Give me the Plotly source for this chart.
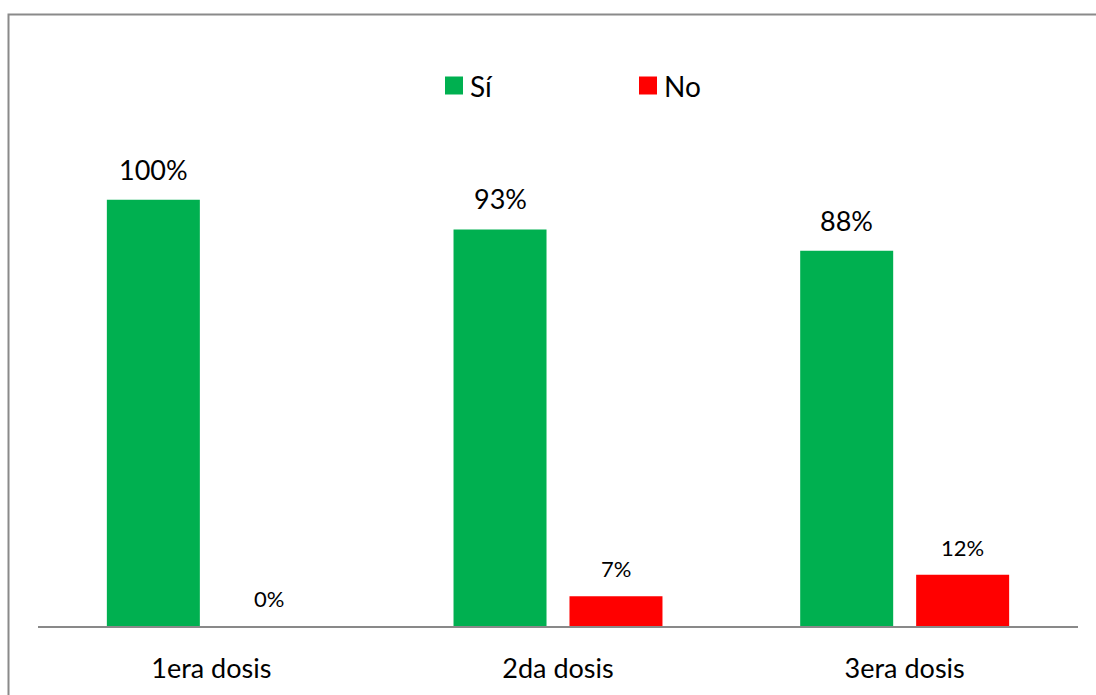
import plotly.graph_objects as go

# Chart data
categories = ["1era dosis", "2da dosis", "3era dosis"]
series_names = ["Sí", "No"]
si_values = [100, 93, 88]
no_values = [0, 7, 12]
series_colors = ["#00B050", "#FF0000"]

# Figure geometry (pixels)
W, H = 1096, 695
M_L, M_R, M_T, M_B = 38, 18, 157, 69
PLOT_W = W - M_L - M_R
PLOT_H = H - M_T - M_B
BARGAP = 0.331
BARGROUPGAP = 0.198
FONT = "Lato"


def px_x(px):
    """Horizontal pixel position -> paper coordinate."""
    return (px - M_L) / PLOT_W


def px_y(py):
    """Vertical pixel position (from top) -> paper coordinate."""
    return (H - M_B - py) / PLOT_H


fig = go.Figure()
for name, vals, color in zip(series_names, [si_values, no_values], series_colors):
    fig.add_trace(go.Bar(
        x=categories, y=vals, name=name,
        marker=dict(color=color, line=dict(width=0)),
        showlegend=False,
    ))

# Value labels above each bar
slot_px = (1 - BARGAP) * PLOT_W / len(categories) / len(series_names)
label_sizes = [27, 22]
annotations = []
for i, (vals, size) in enumerate(zip([si_values, no_values], label_sizes)):
    shift = (i - 0.5) * slot_px
    for cat, v in zip(categories, vals):
        annotations.append(dict(
            x=cat, y=v, xref="x", yref="y", text=f"{v}%",
            showarrow=False, xshift=shift, yshift=12,
            yanchor="bottom", xanchor="center",
            font=dict(family=FONT, size=size, color="#000000"),
        ))

# Legend: coloured squares with series names
legend_items = [(series_names[0], series_colors[0], 445), (series_names[1], series_colors[1], 639)]
shapes = []
for name, color, x0 in legend_items:
    shapes.append(dict(
        type="rect", xref="paper", yref="paper",
        x0=px_x(x0), x1=px_x(x0 + 18), y0=px_y(94.5), y1=px_y(76.5),
        fillcolor=color, line=dict(width=0),
    ))
    annotations.append(dict(
        x=px_x(x0 + 23), y=px_y(86), xref="paper", yref="paper",
        text=name, showarrow=False, xanchor="left", yanchor="middle",
        font=dict(family=FONT, size=28, color="#000000"),
    ))

# Outer chart border
shapes.append(dict(
    type="rect", xref="paper", yref="paper",
    x0=px_x(8.5), x1=px_x(1110), y0=px_y(710), y1=px_y(14.5),
    line=dict(color="#8a8a8a", width=2), fillcolor="rgba(0,0,0,0)", layer="below",
))

fig.update_layout(
    width=W, height=H,
    margin=dict(l=M_L, r=M_R, t=M_T, b=M_B, pad=0),
    paper_bgcolor="white", plot_bgcolor="white",
    barmode="group", bargap=BARGAP, bargroupgap=BARGROUPGAP,
    font=dict(family=FONT, color="#000000"),
    annotations=annotations, shapes=shapes,
    xaxis=dict(
        showline=True, linecolor="#898989", linewidth=1.5,
        showgrid=False, ticks="", zeroline=False,
        tickfont=dict(family=FONT, size=27, color="#000000"),
        ticklabelstandoff=18,
    ),
    yaxis=dict(
        range=[0, 110], visible=False, showgrid=False, zeroline=False,
    ),
)

fig.write_html("out.html")
